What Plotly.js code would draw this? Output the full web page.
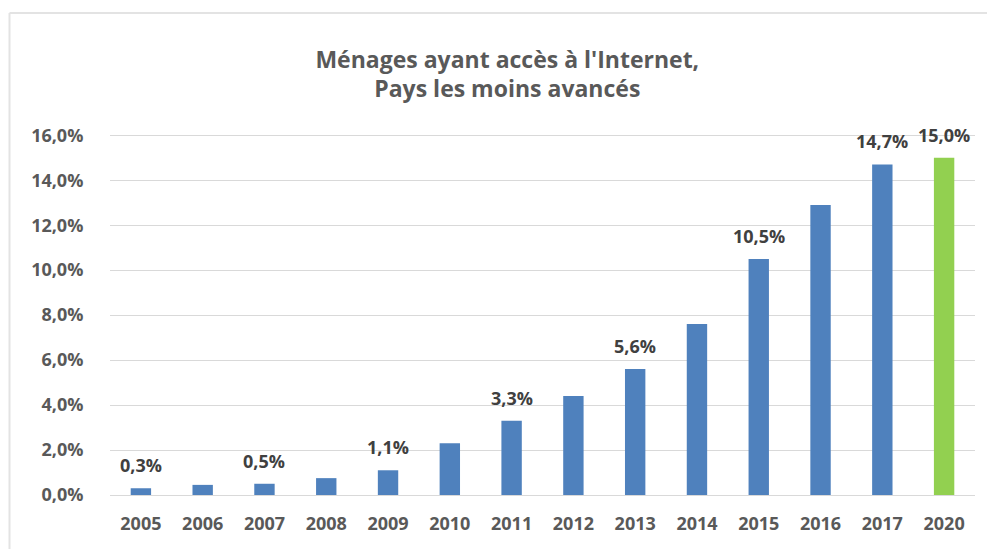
<!DOCTYPE html>
<html>
<head>
<meta charset="utf-8">
<script src="https://cdn.plot.ly/plotly-3.0.1.min.js"></script>
<style>html,body{margin:0;padding:0;background:#fff;}#chart{width:987px;height:549px;}</style>
</head>
<body>
<div id="chart"></div>
<script>
const years = ["2005","2006","2007","2008","2009","2010","2011","2012","2013","2014","2015","2016","2017","2020"];
const values = [0.3, 0.45, 0.5, 0.75, 1.1, 2.3, 3.3, 4.4, 5.6, 7.6, 10.5, 12.9, 14.7, 15.0];
const labels = ["0,3%","","0,5%","","1,1%","","3,3%","","5,6%","","10,5%","","14,7%","15,0%"];
const barColors = ["#4f81bd","#4f81bd","#4f81bd","#4f81bd","#4f81bd","#4f81bd","#4f81bd","#4f81bd","#4f81bd","#4f81bd","#4f81bd","#4f81bd","#4f81bd","#92d050"];
const yTicks = [0,2,4,6,8,10,12,14,16];
const yTickText = ["0,0%","2,0%","4,0%","6,0%","8,0%","10,0%","12,0%","14,0%","16,0%"];

const FONT = '"Open Sans", Lato, sans-serif';
const annotations = [];
years.forEach((y,i)=>{
  if(labels[i]) annotations.push({x:i, y:values[i], xref:'x', yref:'y', text:'<b>'+labels[i]+'</b>', showarrow:false,
    yanchor:'bottom', yshift:9, font:{family:FONT, size:18, color:'#404040'}});
});

const trace = {
  type:'bar', x:years, y:values,
  marker:{color:barColors},
  hoverinfo:'none'
};

const layout = {
  width:987, height:549,
  margin:{l:110, r:12, t:133, b:54},
  paper_bgcolor:'#fff', plot_bgcolor:'#fff',
  bargap:0.67,
  showlegend:false,
  title:{text:"<b>Ménages ayant accès à l'Internet,<br>Pays les moins avancés</b>",
    x:0.514, xanchor:'center', y:0.877, yanchor:'middle',
    font:{family:FONT, size:23, color:'#595959'}},
  xaxis:{type:'category', range:[-0.5, years.length-0.5],
    tickfont:{family:FONT, size:18, color:'#595959'},
    tickvals:years, ticktext:years.map(t=>'<b>'+t+'</b>'),
    showgrid:false, showline:false, ticks:'outside', ticklen:12, tickcolor:'rgba(0,0,0,0)'},
  yaxis:{range:[0,16.1], tickvals:yTicks, ticktext:yTickText.map(t=>'<b>'+t+'</b>'),
    tickfont:{family:FONT, size:18, color:'#595959'},
    showgrid:true, gridcolor:'#d9d9d9', gridwidth:1, zeroline:true, zerolinecolor:'#d9d9d9',
    showline:false, ticks:'outside', ticklen:22, tickcolor:'rgba(0,0,0,0)'},
  annotations:annotations,
  shapes:[
    {type:'line', xref:'paper', yref:'paper', x0:-0.1162, x1:1.05, y0:1.3315, y1:1.3315, line:{color:'#e3e3e3', width:2}},
    {type:'line', xref:'paper', yref:'paper', x0:-0.1162, x1:-0.1162, y0:1.3315, y1:-0.2, line:{color:'#e3e3e3', width:2}}
  ]
};

Plotly.newPlot('chart',[trace],layout,{displayModeBar:false, staticPlot:true});
</script>
</body>
</html>
